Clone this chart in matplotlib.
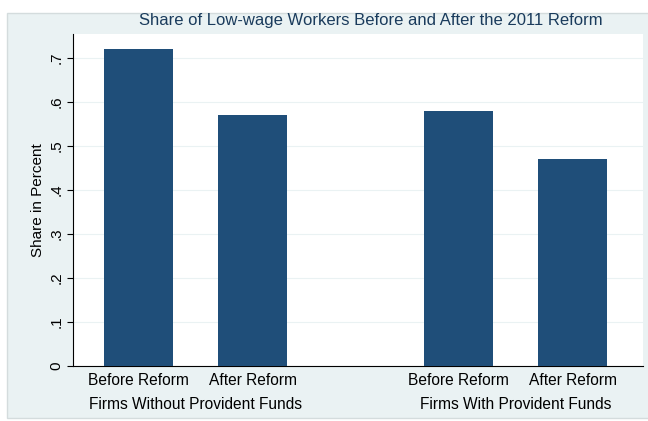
import matplotlib.pyplot as plt
from matplotlib.patches import Rectangle

plt.rcParams["font.family"] = ["Liberation Sans", "DejaVu Sans"]

groups = ["Firms Without Provident Funds", "Firms With Provident Funds"]
periods = ["Before Reform", "After Reform"]
shares = [[0.72, 0.57], [0.58, 0.47]]

bar_color = "#1f4e79"
bg_color = "#eaf2f3"

fig = plt.figure(figsize=(6.48, 4.21), dpi=100)
fig.patches.append(Rectangle((7 / 648, 3 / 421), 1, 405 / 421, transform=fig.transFigure,
                             facecolor=bg_color, edgecolor="#d4dcdd", linewidth=1, zorder=-5))

ax = fig.add_axes([73 / 648, 1 - 366 / 421, 570 / 648, 332 / 421])
ax.set_facecolor("white")

group_step = 2.81
for g in range(len(groups)):
    for p in range(len(periods)):
        x = g * group_step + p
        ax.bar(x, shares[g][p], width=0.605, color=bar_color, zorder=3)
        ax.text(x, -0.016, periods[p], ha="center", va="top", fontsize=11.2)
    ax.text(g * group_step + 0.5, -0.071, groups[g], ha="center", va="top", fontsize=11.2)

ax.set_xlim(-0.575, 4.425)
ax.set_ylim(0, 0.755)
ax.set_xticks([])
yt = [0, 0.1, 0.2, 0.3, 0.4, 0.5, 0.6, 0.7]
ax.set_yticks(yt)
ax.set_yticklabels(["0", ".1", ".2", ".3", ".4", ".5", ".6", ".7"], rotation=90,
                   va="center", fontsize=11)
ax.tick_params(axis="y", length=4, width=0.8, pad=3)
ax.grid(axis="y", color=bg_color, linewidth=0.8, zorder=0)
ax.spines["top"].set_visible(False)
ax.spines["right"].set_visible(False)
ax.spines["left"].set_linewidth(0.8)
ax.spines["bottom"].set_linewidth(0.8)
ax.set_ylabel("Share in Percent", fontsize=11, labelpad=3)

fig.text(371 / 648, 1 - 20 / 421, "Share of Low-wage Workers Before and After the 2011 Reform",
         ha="center", va="center", fontsize=12, color="#1a3b5c")

fig.savefig("out.png", dpi=100)
